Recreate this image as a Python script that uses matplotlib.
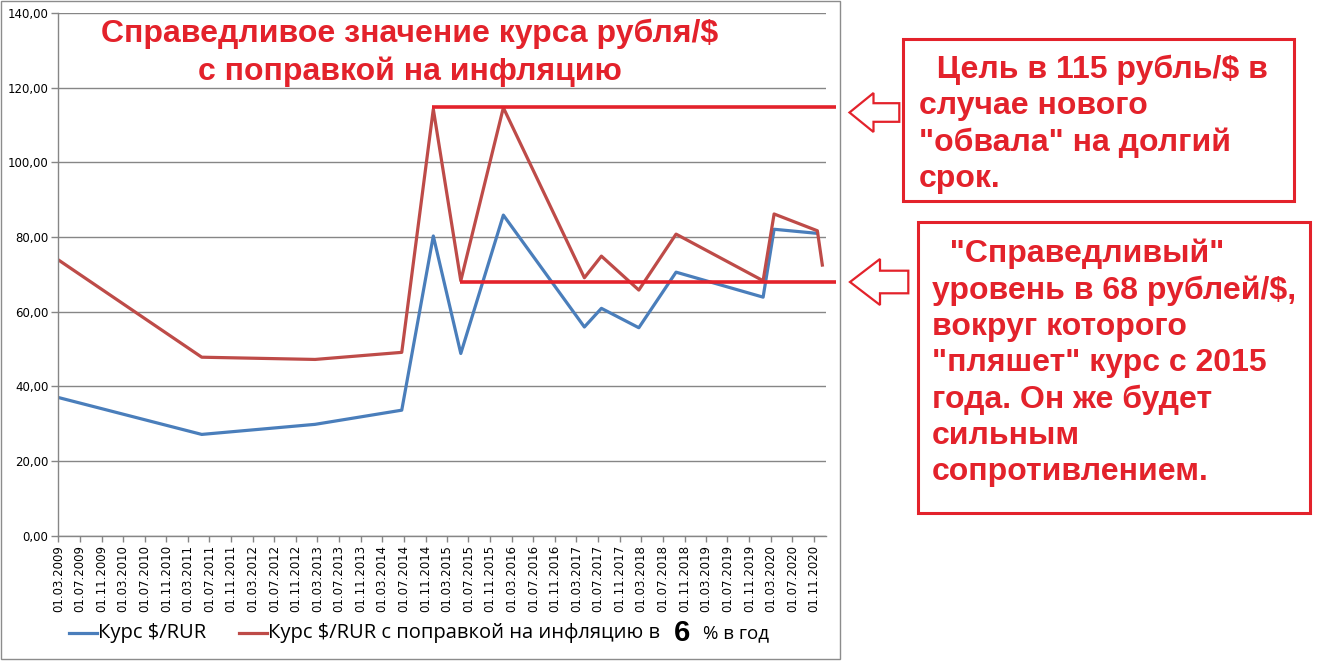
#!/usr/bin/env python3
# -*- coding: utf-8 -*-

import numpy as np
import pandas as pd
import matplotlib
matplotlib.use("Agg")
import matplotlib.pyplot as plt
import matplotlib.dates as mdates
from matplotlib.lines import Line2D
from matplotlib.patches import Polygon, Rectangle

# ---------- данные ----------
dates = pd.to_datetime([
    "2009-03-01", "2011-05-19", "2013-02-16", "2014-06-20", "2014-12-15",
    "2015-05-19", "2016-01-14", "2017-04-15", "2017-07-20", "2018-02-16",
    "2018-09-14", "2020-01-18", "2020-03-20", "2020-11-19", "2020-12-17",
])
rate = [37.0, 27.1, 29.8, 33.6, 80.3, 48.8, 85.9, 55.9, 60.9, 55.7,
        70.6, 63.9, 82.1, 81.0, np.nan]
rate_infl = [73.9, 47.8, 47.2, 49.1, 114.3, 68.3, 114.7, 69.1, 74.9, 65.8,
             80.8, 68.3, 86.2, 81.7, 72.5]

levels = [115, 68]
level_start = pd.to_datetime(["2014-12-06", "2015-05-15"])
level_end = pd.Timestamp("2021-03-06")

tick_dates = pd.date_range("2009-03-01", "2020-11-01", freq="4MS")

series_names = ["Курс $/RUR", "Курс $/RUR с поправкой на инфляцию в"]
infl_pct = "6"

BLUE = "#4a7ebb"
BROWN = "#be4b48"
RED = "#e3222b"
GRID = "#868686"

W, H = 1333, 662


def fx(px):
    return px / W


def fy(py):
    return 1 - py / H


plt.rcParams["font.family"] = ["DejaVu Sans"]

fig = plt.figure(figsize=(W / 100, H / 100), dpi=100)
fig.patch.set_facecolor("white")

# рамка области диаграммы Excel
fig.add_artist(Rectangle((fx(1), fy(659)), fx(839), 658 / H,
                         transform=fig.transFigure, fill=False,
                         edgecolor="#8c8c8c", linewidth=1.0))

ax = fig.add_axes([fx(58.3), fy(535.5), fx(825.7 - 58.3), (535.5 - 13.3) / H])

ax.plot(dates, rate, color=BLUE, linewidth=2.3, solid_joinstyle="round")
ax.plot(dates, rate_infl, color=BROWN, linewidth=2.3, solid_joinstyle="round")

for lv, st in zip(levels, level_start):
    ax.plot([st, level_end], [lv, lv], color=RED, linewidth=2.6,
            solid_capstyle="butt", clip_on=False, zorder=5)

ax.set_ylim(0, 140)
ax.set_yticks(np.arange(0, 141, 20))
ax.yaxis.set_major_formatter(plt.FuncFormatter(lambda v, p: f"{v:.2f}".replace(".", ",")))
ax.set_xlim(pd.Timestamp("2009-03-01"), pd.Timestamp("2021-01-05"))
ax.set_xticks(tick_dates)
ax.xaxis.set_major_formatter(mdates.DateFormatter("%d.%m.%Y"))
plt.setp(ax.get_xticklabels(), rotation=90, ha="center", va="top")

ax.grid(True, axis="y", color=GRID, linewidth=1.0)
ax.set_axisbelow(True)
for s in ["top", "right"]:
    ax.spines[s].set_visible(False)
for s in ["left", "bottom"]:
    ax.spines[s].set_color(GRID)
    ax.spines[s].set_linewidth(1.0)
ax.tick_params(axis="y", length=5, width=1, color=GRID, labelsize=8.5, pad=2)
ax.tick_params(axis="x", length=4, width=1, color=GRID, labelsize=8.5, pad=3)

# заголовок
fig.text(fx(410), fy(53), "Справедливое значение курса рубля/$\nс поправкой на инфляцию",
         ha="center", va="center", color=RED, fontsize=23, fontweight="bold",
         family="Liberation Sans", linespacing=1.3)

# легенда (вручную, т.к. "6" крупнее)
fig.add_artist(Line2D([fx(69), fx(97)], [fy(632.5)] * 2, color=BLUE, linewidth=2.3,
                      transform=fig.transFigure))
fig.text(fx(98), fy(633), series_names[0], ha="left", va="center", fontsize=14.5,
         family="Open Sans")
fig.add_artist(Line2D([fx(239), fx(267)], [fy(632.5)] * 2, color=BROWN, linewidth=2.3,
                      transform=fig.transFigure))
fig.text(fx(268), fy(633), series_names[1], ha="left", va="center", fontsize=14.5,
         family="Open Sans")
fig.text(fx(682), fy(633), infl_pct, ha="center", va="center", fontsize=21,
         fontweight="bold", family="Liberation Sans")
fig.text(fx(703), fy(633), "% в год", ha="left", va="center", fontsize=13.5,
         family="Open Sans")

# аннотации справа
fig.add_artist(Rectangle((fx(903.3), fy(200.7)), fx(1294 - 903.3), (200.7 - 39.3) / H,
                         transform=fig.transFigure, fill=False, edgecolor=RED, linewidth=2.2))
fig.add_artist(Rectangle((fx(918.3), fy(513.3)), fx(1310 - 918.3), (513.3 - 221.7) / H,
                         transform=fig.transFigure, fill=False, edgecolor=RED, linewidth=2.2))

box1 = "  Цель в 115 рубль/$ в\nслучае нового\n\"обвала\" на долгий\nсрок."
box2 = ("  \"Справедливый\"\nуровень в 68 рублей/$,\nвокруг которого\n"
        "\"пляшет\" курс с 2015\nгода. Он же будет\nсильным\nсопротивлением.")
fig.text(fx(919), fy(124), box1, ha="left", va="center", color=RED, fontsize=23,
         fontweight="bold", family="Liberation Sans", linespacing=1.27)
fig.text(fx(932), fy(363), box2, ha="left", va="center", color=RED, fontsize=23,
         fontweight="bold", family="Liberation Sans", linespacing=1.27)


def arrow(tip_x, tip_y, head_x, head_half, body_half, end_x):
    pts = [(tip_x, tip_y), (head_x, tip_y - head_half), (head_x, tip_y - body_half),
           (end_x, tip_y - body_half), (end_x, tip_y + body_half),
           (head_x, tip_y + body_half), (head_x, tip_y + head_half)]
    fig.add_artist(Polygon([(fx(x), fy(y)) for x, y in pts], closed=True,
                           transform=fig.transFigure, fill=False,
                           edgecolor=RED, linewidth=1.6))


arrow(849.5, 112.5, 873.5, 19.5, 9.3, 899.3)
arrow(850, 282, 880, 23, 11.3, 908.3)

fig.savefig("out.png", dpi=100, facecolor="white")
